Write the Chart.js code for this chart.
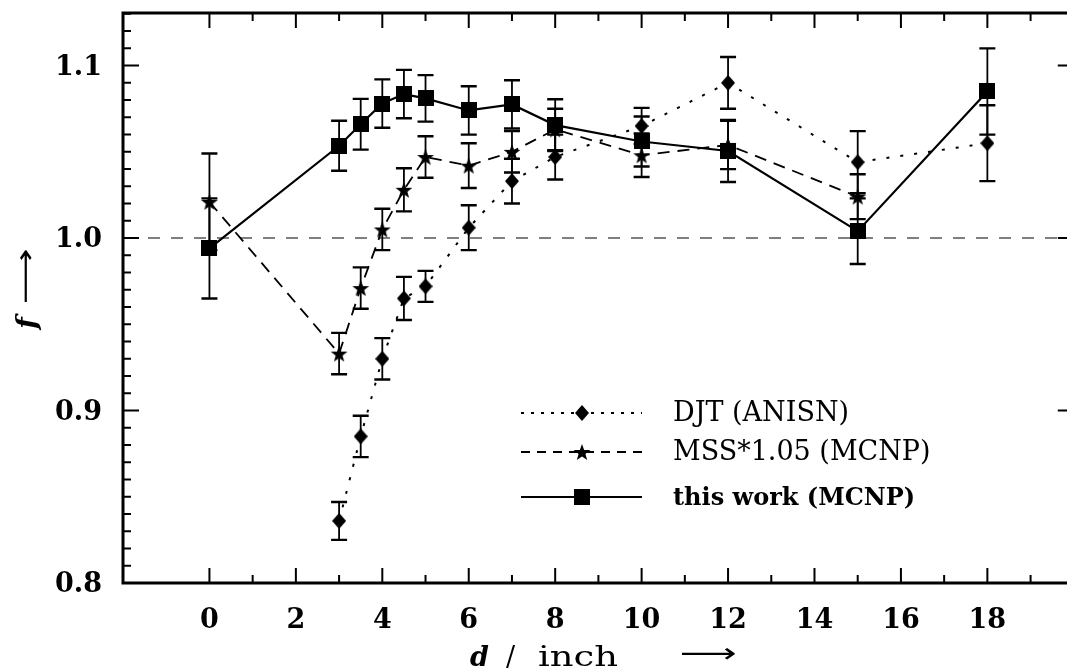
<!DOCTYPE html>
<html>
<head>
<meta charset="utf-8">
<script src="https://cdn.jsdelivr.net/npm/chart.js@4.4.1/dist/chart.umd.min.js"></script>
<style>
    body { margin: 0; background: #fff; overflow: hidden; }
    #caixa { width: 1080px; height: 672px; }
</style>
</head>
<body>
<div id="caixa"><canvas id="grafico" width="1080" height="672"></canvas></div>
<script>
// d / inch
const distDJT = [3, 3.5, 4, 4.5, 5, 6, 7, 8, 10, 12, 15, 18];
const fDJT = [0.836, 0.885, 0.930, 0.965, 0.972, 1.006, 1.033, 1.047, 1.065, 1.090, 1.044, 1.055];
const erroDJT = [0.011, 0.012, 0.012, 0.0125, 0.009, 0.013, 0.013, 0.013, 0.0105, 0.015, 0.018, 0.022];

const distMSS = [0, 3, 3.5, 4, 4.5, 5, 6, 7, 8, 10, 12, 15];
const fMSS = [1.021, 0.933, 0.971, 1.005, 1.028, 1.047, 1.042, 1.050, 1.063, 1.048, 1.054, 1.024];
const erroMSS = [0.028, 0.012, 0.012, 0.012, 0.0125, 0.012, 0.013, 0.012, 0.012, 0.0126, 0.014, 0.013];

const distTW = [0, 3, 3.5, 4, 4.5, 5, 6, 7, 8, 10, 12, 15, 18];
const fTW = [0.994, 1.0535, 1.066, 1.078, 1.0835, 1.081, 1.074, 1.0775, 1.0655, 1.056, 1.0505, 1.004, 1.085];
const erroTW = [0.029, 0.0145, 0.0147, 0.014, 0.014, 0.0135, 0.014, 0.014, 0.015, 0.0145, 0.018, 0.019, 0.025];

const xTicks = [0, 2, 4, 6, 8, 10, 12, 14, 16, 18];
const yTicks = [0.8, 0.9, 1.0, 1.1];
const yTickLabels = ["0.8", "0.9", "1.0", "1.1"];
const legendas = ["DJT (ANISN)", "MSS*1.05 (MCNP)", "this work (MCNP)"];

function pontos(xs, ys) {
    return xs.map((x, i) => ({ x: x, y: ys[i] }));
}

function marcador(w, h, desenhar) {
    const c = document.createElement("canvas");
    c.width = w;
    c.height = h;
    const ctx = c.getContext("2d");
    ctx.fillStyle = "#000";
    desenhar(ctx, w, h);
    return c;
}

const quadrado = marcador(16, 16, (ctx, w, h) => ctx.fillRect(0, 0, w, h));
const losango = marcador(14, 16, (ctx, w, h) => {
    ctx.beginPath();
    ctx.moveTo(w / 2, 0);
    ctx.lineTo(w, h / 2);
    ctx.lineTo(w / 2, h);
    ctx.lineTo(0, h / 2);
    ctx.closePath();
    ctx.fill();
});
const estrela = marcador(18, 18, (ctx, w, h) => {
    ctx.beginPath();
    for (let i = 0; i < 10; i++) {
        const r = i % 2 === 0 ? 8.8 : 3.6;
        const a = -Math.PI / 2 + i * Math.PI / 5;
        ctx.lineTo(w / 2 + r * Math.cos(a), 9.8 + r * Math.sin(a));
    }
    ctx.closePath();
    ctx.fill();
});

const series = [
    { dist: distTW, f: fTW, erro: erroTW },
    { dist: distMSS, f: fMSS, erro: erroMSS },
    { dist: distDJT, f: fDJT, erro: erroDJT }
];

// texto esticado na horizontal ate a largura pedida
function textoLargura(ctx, txt, x, y, largura) {
    const sx = largura / ctx.measureText(txt).width;
    ctx.save();
    ctx.translate(x, y);
    ctx.scale(sx, 1);
    ctx.fillText(txt, 0, 0);
    ctx.restore();
}

// barras de erro, linha de referencia em 1.0
const barrasErro = {
    id: "barrasErro",
    beforeDatasetsDraw(chart) {
        const { ctx, chartArea, scales: { x, y } } = chart;
        ctx.save();
        ctx.beginPath();
        ctx.rect(chartArea.left, chartArea.top, chartArea.right - chartArea.left, chartArea.bottom - chartArea.top);
        ctx.clip();

        ctx.strokeStyle = "#555";
        ctx.lineWidth = 1.5;
        ctx.setLineDash([12, 11]);
        ctx.beginPath();
        ctx.moveTo(chartArea.left + 25, y.getPixelForValue(1.0));
        ctx.lineTo(chartArea.right, y.getPixelForValue(1.0));
        ctx.stroke();
        ctx.setLineDash([]);

        ctx.strokeStyle = "#000";
        series.forEach(s => {
            s.dist.forEach((d, i) => {
                const px = x.getPixelForValue(d);
                const y1 = y.getPixelForValue(s.f[i] + s.erro[i]);
                const y2 = y.getPixelForValue(s.f[i] - s.erro[i]);
                ctx.lineWidth = 1.8;
                ctx.beginPath();
                ctx.moveTo(px, y1);
                ctx.lineTo(px, y2);
                ctx.stroke();
                ctx.lineWidth = 2.4;
                ctx.beginPath();
                ctx.moveTo(px - 8, y1);
                ctx.lineTo(px + 8, y1);
                ctx.moveTo(px - 8, y2);
                ctx.lineTo(px + 8, y2);
                ctx.stroke();
            });
        });
        ctx.restore();
    }
};

// moldura, ticks para dentro, rotulos, titulos e legenda
const moldura = {
    id: "moldura",
    afterDraw(chart) {
        const { ctx, chartArea: a, scales: { x, y } } = chart;
        ctx.save();
        ctx.strokeStyle = "#000";
        ctx.fillStyle = "#000";

        ctx.lineWidth = 2;
        for (let v = 0; v <= 20; v++) {
            const px = x.getPixelForValue(v);
            const len = v % 2 === 0 ? 15 : 8;
            ctx.beginPath();
            ctx.moveTo(px, a.bottom);
            ctx.lineTo(px, a.bottom - len);
            ctx.moveTo(px, a.top);
            ctx.lineTo(px, a.top + len);
            ctx.stroke();
        }
        for (let k = 80; k <= 113; k++) {
            const py = y.getPixelForValue(k / 100);
            const major = k % 10 === 0;
            ctx.beginPath();
            ctx.moveTo(a.left, py);
            ctx.lineTo(a.left + (major ? 16 : 8), py);
            ctx.moveTo(a.right, py);
            ctx.lineTo(a.right - (major ? 16 : 6), py);
            ctx.stroke();
        }

        ctx.lineWidth = 3;
        ctx.strokeRect(a.left, a.top, a.right - a.left, a.bottom - a.top);

        ctx.font = "bold 27px 'DejaVu Serif'";
        ctx.textAlign = "center";
        ctx.textBaseline = "alphabetic";
        xTicks.forEach(v => ctx.fillText(String(v), x.getPixelForValue(v), 628));
        ctx.textAlign = "right";
        ctx.textBaseline = "middle";
        yTicks.forEach((v, i) => ctx.fillText(yTickLabels[i], 102, y.getPixelForValue(v) + 2));

        // titulo x
        ctx.textAlign = "left";
        ctx.textBaseline = "alphabetic";
        ctx.font = "italic bold 27px 'DejaVu Serif'";
        ctx.fillText("d", 470, 666);
        ctx.font = "27px 'DejaVu Serif'";
        ctx.fillText("/", 506, 666);
        textoLargura(ctx, "inch", 538, 666, 80);
        ctx.font = "27px 'DejaVu Sans'";
        textoLargura(ctx, "\u27F6", 680, 662, 57);

        // titulo y
        ctx.save();
        ctx.translate(29, 323);
        ctx.rotate(-Math.PI / 2);
        ctx.textAlign = "center";
        ctx.textBaseline = "middle";
        ctx.font = "italic bold 27px 'DejaVu Serif'";
        ctx.fillText("f", 0, 0);
        ctx.textAlign = "left";
        ctx.font = "27px 'DejaVu Sans'";
        textoLargura(ctx, "\u27F6", 19, -2, 56);
        ctx.restore();

        // legenda
        const linhas = [413, 452, 497];
        const bases = [421, 460, 505];
        const tracos = [[3, 7], [9, 7], []];
        const marcas = [losango, estrela, quadrado];
        linhas.forEach((ly, i) => {
            ctx.lineWidth = 1.8;
            ctx.setLineDash(tracos[i]);
            ctx.beginPath();
            ctx.moveTo(521, ly);
            ctx.lineTo(642, ly);
            ctx.stroke();
            ctx.setLineDash([]);
            const m = marcas[i];
            ctx.drawImage(m, 582 - m.width / 2, ly - m.height / 2);
            ctx.font = i === 2 ? "bold 24px 'DejaVu Serif'" : "27px 'DejaVu Serif'";
            ctx.textAlign = "left";
            ctx.textBaseline = "alphabetic";
            ctx.fillText(legendas[i], 673, bases[i]);
        });
        ctx.restore();
    }
};

const grafico = document.getElementById("grafico");

new Chart(grafico, {
    type: "line",
    data: {
        datasets: [
            {
                label: legendas[2],
                data: pontos(distTW, fTW),
                borderColor: "#000",
                borderWidth: 2.2,
                pointStyle: quadrado,
                tension: 0
            },
            {
                label: legendas[1],
                data: pontos(distMSS, fMSS),
                borderColor: "#000",
                borderWidth: 1.8,
                borderDash: [12, 8],
                pointStyle: estrela,
                tension: 0
            },
            {
                label: legendas[0],
                data: pontos(distDJT, fDJT),
                borderColor: "#000",
                borderWidth: 2,
                borderDash: [3, 11],
                pointStyle: losango,
                tension: 0
            }
        ]
    },
    options: {
        responsive: false,
        animation: false,
        devicePixelRatio: 1,
        layout: { padding: { left: 123, right: 5, top: 13, bottom: 89 } },
        scales: {
            x: { type: "linear", min: -2, max: 20, display: false },
            y: { type: "linear", min: 0.8, max: 1.1305, display: false }
        },
        plugins: {
            legend: { display: false },
            tooltip: { enabled: false }
        }
    },
    plugins: [barrasErro, moldura]
});
</script>
</body>
</html>
